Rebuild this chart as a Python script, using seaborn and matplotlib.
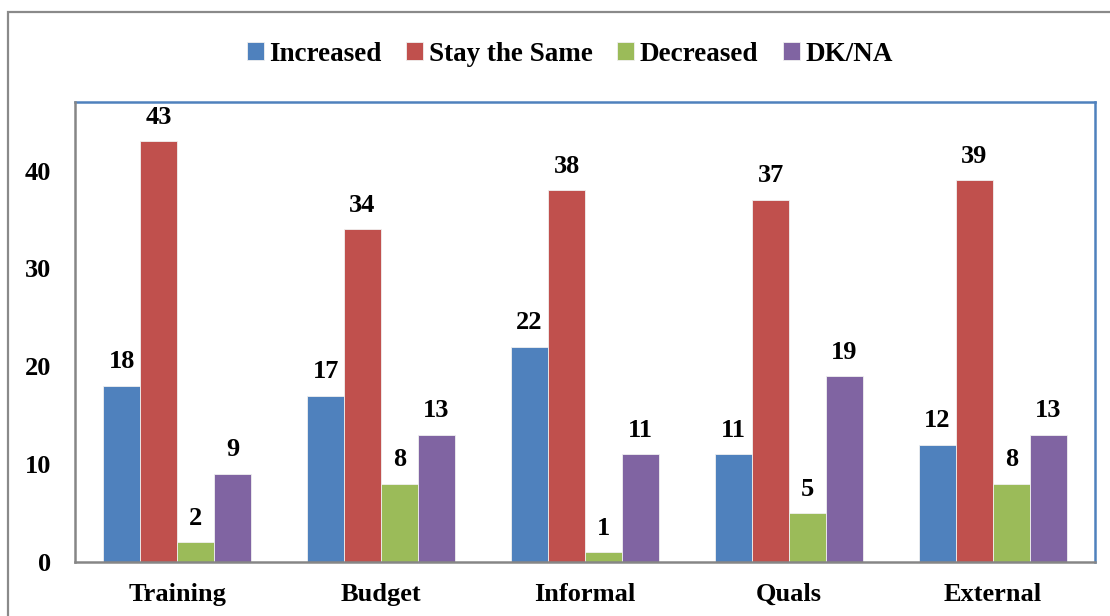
import numpy as np
import pandas as pd
import matplotlib
matplotlib.use("Agg")
import matplotlib.pyplot as plt
import seaborn as sns
from matplotlib.patches import Rectangle

categories = ["Training", "Budget", "Informal", "Quals", "External"]
series = ["Increased", "Stay the Same", "Decreased", "DK/NA"]
increased = [18, 17, 22, 11, 12]
stay_same = [43, 34, 38, 37, 39]
decreased = [2, 8, 1, 5, 8]
dk_na = [9, 13, 11, 19, 13]
colors = ["#4F81BD", "#C0504D", "#9BBB59", "#8064A2"]

df = pd.DataFrame({
    "category": categories * 4,
    "series": np.repeat(series, len(categories)),
    "value": increased + stay_same + decreased + dk_na,
})

sns.set_theme(style="white")
plt.rcParams['font.family'] = ['Liberation Serif', 'DejaVu Serif']
plt.rcParams['font.weight'] = 'bold'
plt.rcParams['text.color'] = 'black'
plt.rcParams['xtick.labelcolor'] = 'black'
plt.rcParams['ytick.labelcolor'] = 'black'

fig = plt.figure(figsize=(11.1, 6.16), dpi=100)
ax = fig.add_axes([0.0676, 0.0877, 0.9189, 0.7467])

sns.barplot(data=df, x="category", y="value", hue="series", order=categories,
            hue_order=series, palette=colors, width=0.725, gap=0,
            edgecolor="#f0f0f0", linewidth=0.6, saturation=1, ax=ax)

for cont in ax.containers:
    ax.bar_label(cont, fmt="%d", padding=9, fontsize=19, fontweight="bold", color="black")

ax.set_ylim(0, 47)
ax.set_xlim(-0.5, 4.5)
ax.set_yticks([0, 10, 20, 30, 40])
ax.set_xlabel("")
ax.set_ylabel("")

ax.set_xticks(np.arange(-0.5, 5, 1), minor=True)
ax.tick_params(axis="x", which="major", length=0, pad=15, labelsize=19)
ax.tick_params(axis="x", which="minor", length=8, width=1.3, color="#868686", direction="out")
ax.tick_params(axis="y", length=7, width=1.3, color="#868686", direction="out", pad=10, labelsize=19)
for lab in ax.get_xticklabels() + ax.get_yticklabels():
    lab.set_fontweight("bold")

for side in ["top", "right"]:
    ax.spines[side].set_color("#4F81BD")
    ax.spines[side].set_linewidth(1.8)
for side in ["left", "bottom"]:
    ax.spines[side].set_color("#868686")
    ax.spines[side].set_linewidth(1.8)
    ax.spines[side].set_zorder(5)

leg = ax.legend(loc="center", bbox_to_anchor=(0.485, 1.104), ncol=4, frameon=False,
                prop={"size": 19.5, "weight": "bold"}, handlelength=0.62, handleheight=0.62,
                handletextpad=0.2, columnspacing=0.92, borderaxespad=0)

fig.patches.append(Rectangle((8 / 1110, -0.05), 1.2, (616 - 12) / 616 + 0.05,
                             transform=fig.transFigure, fill=False,
                             edgecolor="#8a8a8a", linewidth=1.6, zorder=0))

fig.savefig("out.png", dpi=100)
